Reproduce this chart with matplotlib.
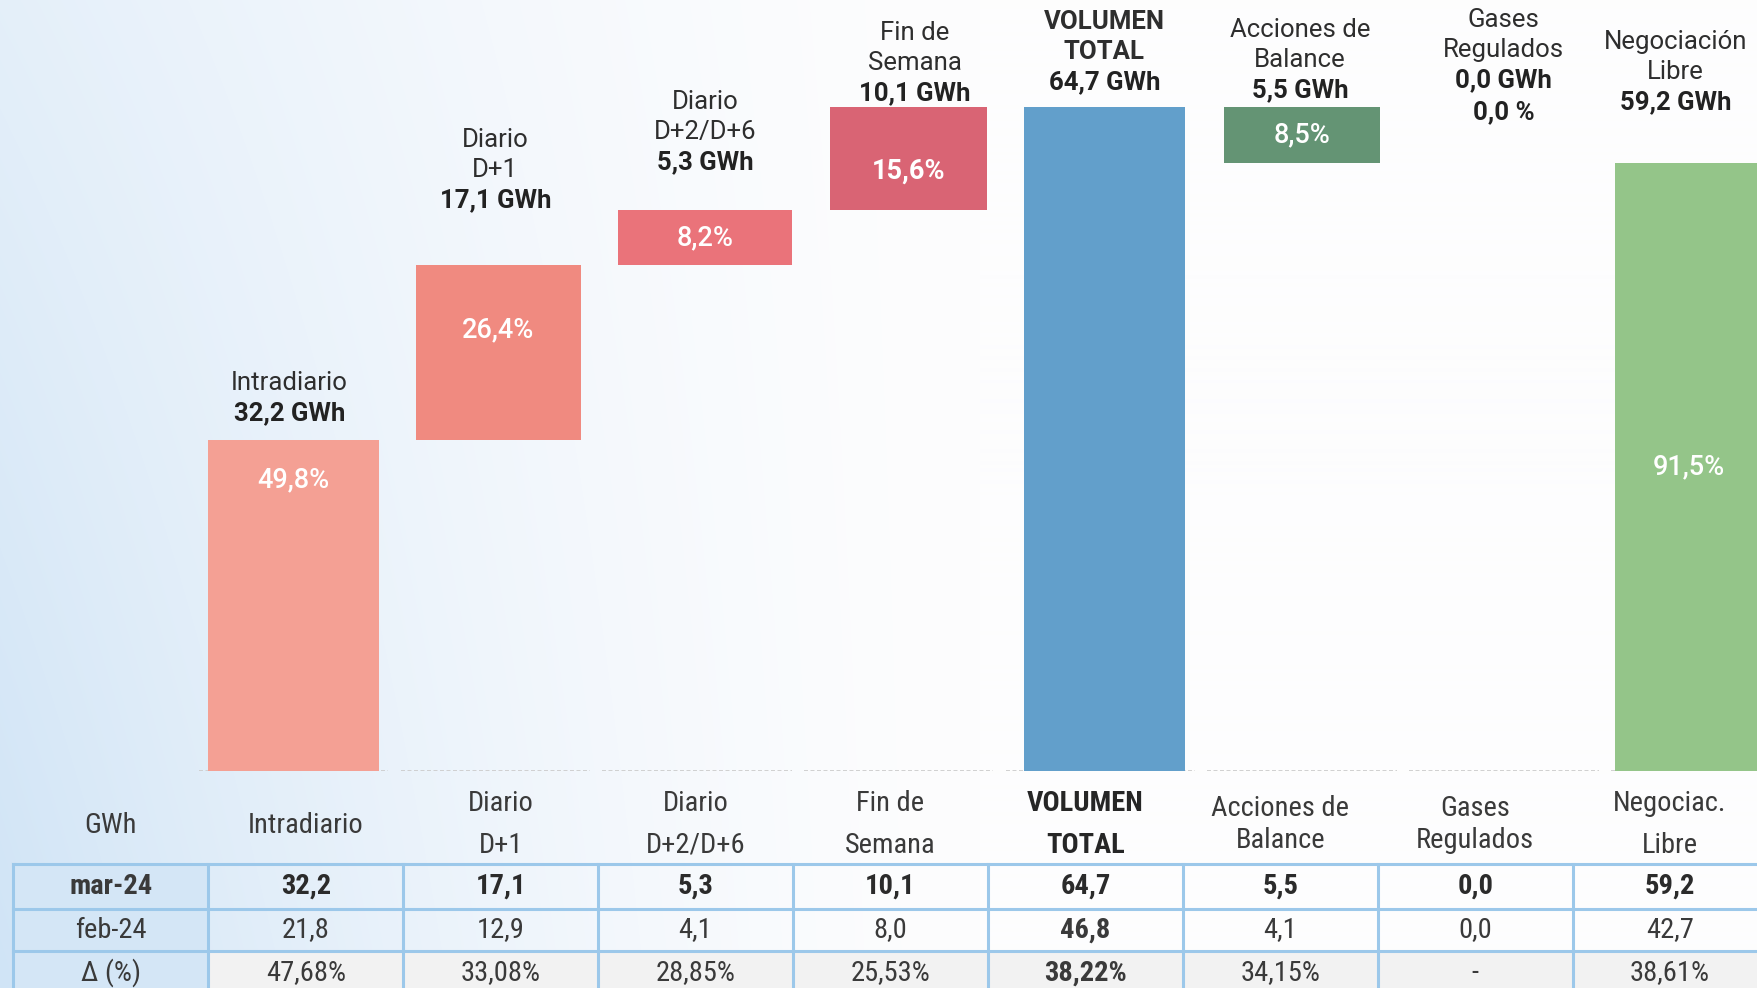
import numpy as np
import matplotlib
matplotlib.use("Agg")
import matplotlib.pyplot as plt
from matplotlib.transforms import blended_transform_factory

# ---------------- data ----------------
categories = ["Intradiario", "Diario D+1", "Diario D+2/D+6", "Fin de Semana",
              "VOLUMEN TOTAL", "Acciones de Balance", "Gases Regulados", "Negociación Libre"]
top_labels = [["Intradiario"], ["Diario", "D+1"], ["Diario", "D+2/D+6"], ["Fin de", "Semana"],
              ["VOLUMEN", "TOTAL"], ["Acciones de", "Balance"], ["Gases", "Regulados"],
              ["Negociación", "Libre"]]
mar24 = [32.2, 17.1, 5.3, 10.1, 64.7, 5.5, 0.0, 59.2]
feb24 = [21.8, 12.9, 4.1, 8.0, 46.8, 4.1, 0.0, 42.7]
delta_txt = ["47,68%", "33,08%", "28,85%", "25,53%", "38,22%", "34,15%", "-", "38,61%"]
share_pct = [49.8, 26.4, 8.2, 15.6, None, 8.5, 0.0, 91.5]
# bar kind: 'up' stacks upward, 'total' from zero, 'down' subtracts from running total
kinds = ["up", "up", "up", "up", "total", "down", "down", "total"]
table_headers = ["GWh", "Intradiario", "Diario\nD+1", "Diario\nD+2/D+6", "Fin de\nSemana",
                 "VOLUMEN\nTOTAL", "Acciones de\nBalance", "Gases\nRegulados", "Negociac.\nLibre"]
row_labels = ["mar-24", "feb-24", "Δ (%)"]

# ---------------- style / layout ----------------
colors = ["#F4A094", "#F08A80", "#EA737A", "#D96474", "#629FCB", "#649474", "#649474", "#94C589"]
widths = [0.85, 0.82, 0.86, 0.78, 0.80, 0.77, 0.77, 0.86]
bar_dx_px = [0, 3, 8, 10, 4, 0, 0, -4]
pct_dx_px = [0, 0, 0, 0, 0, 0, 0, -13]
pct_frac = [0.12, 0.37, 0.5, 0.62, None, 0.5, None, 0.5]   # position of % label from top of bar
value_line_px = [413, 200, 162, 93, 82, 90, 80, 102]      # y (px from top) of bold value line
label_dx_px = [-4, 0, 8, 16, 4, -2, 0, -30]
LINE = 30.0

W, H, DPI = 1757, 988, 100
BASE_PX = 771.0
PX_PER_GWH = 10.27
X0_PX, STEP_PX = 293.6, 201.7

lab_font = ["Roboto", "DejaVu Sans"]
tab_font = ["Liberation Sans Narrow", "Roboto Condensed", "Roboto", "DejaVu Sans"]
txt_col = "#2e2e2e"
TFS = 20.5

fig = plt.figure(figsize=(W / DPI, H / DPI), dpi=DPI)

# background gradient
bg = fig.add_axes([0, 0, 1, 1], zorder=-10)
xs = np.linspace(0, 1, W)
ys = np.linspace(0, 1, H)
wx = np.clip(1 - xs * W / 980.0, 0, 1) ** 1.5
wy = 0.55 + 0.45 * ys
wgt = wy[:, None] * wx[None, :]
blue = np.array([208, 228, 246]) / 255.0
white = np.array([253, 253, 254]) / 255.0
img = white[None, None, :] + wgt[..., None] * (blue - white)[None, None, :]
bg.imshow(img, extent=[0, W, H, 0], aspect="auto")
bg.set_xlim(0, W)
bg.set_ylim(H, 0)
bg.axis("off")

# chart axes
ax = fig.add_axes([0, (H - BASE_PX) / H, 1, BASE_PX / H])
ax.set_xlim(-X0_PX / STEP_PX, (W - X0_PX) / STEP_PX)
ax.set_ylim(0, BASE_PX / PX_PER_GWH)
ax.axis("off")
ax.patch.set_alpha(0)

bottoms, tops = [], []
running = 0.0
for v, k in zip(mar24, kinds):
    if k == "up":
        b, t = running, running + v
        running = t
    elif k == "total":
        b, t = 0.0, v
        running = v
    else:
        b, t = running - v, running
        running = b
    bottoms.append(b)
    tops.append(t)

xpos = np.arange(len(categories))
for i in xpos:
    xc = i + bar_dx_px[i] / STEP_PX
    ax.plot([i - 0.47, i + 0.47], [0, 0], color="#cdcdcd", lw=1.3,
            ls=(0, (2.2, 1.4)), zorder=1, solid_capstyle="butt")
    h = tops[i] - bottoms[i]
    if h > 0:
        ax.bar(xc, h, bottom=bottoms[i], width=widths[i], color=colors[i], zorder=2,
               linewidth=0)

trans = blended_transform_factory(ax.transData, fig.transFigure)


def fy(px):
    return 1 - px / H


def fmt(v):
    return f"{v:.1f}".replace(".", ",")


for i in xpos:
    x = i + label_dx_px[i] / STEP_PX
    y_val = value_line_px[i]
    lines = top_labels[i]
    bold_lines = (i == 4)
    for j, ln in enumerate(lines):
        y = y_val - LINE * (len(lines) - j)
        ax.text(x, fy(y), ln, transform=trans, ha="center", va="center",
                fontsize=18.5, family=lab_font, color=txt_col,
                fontweight="bold" if bold_lines else "normal")
    ax.text(x, fy(y_val), f"{fmt(mar24[i])} GWh", transform=trans, ha="center",
            va="center", fontsize=18.5, family=lab_font, color="#222222", fontweight="bold")
    if share_pct[i] is not None:
        if pct_frac[i] is None:
            ax.text(x, fy(y_val + 32), f"{fmt(share_pct[i])} %", transform=trans,
                    ha="center", va="center", fontsize=18.5, family=lab_font,
                    color="#222222", fontweight="bold")
        else:
            xc = i + (bar_dx_px[i] + pct_dx_px[i]) / STEP_PX
            yv = tops[i] - pct_frac[i] * (tops[i] - bottoms[i])
            ax.text(xc, yv, f"{fmt(share_pct[i])}%", ha="center", va="center",
                    fontsize=19.5, family=lab_font, color="white",
                    fontweight="bold" if i == 3 else "medium", zorder=3)

# ---------------- table ----------------
tax = fig.add_axes([0, 0, 1, 1], zorder=5)
tax.set_xlim(0, W)
tax.set_ylim(H, 0)
tax.axis("off")
tax.patch.set_alpha(0)

left = 13.4
colw = 194.9
col_edges = [left + colw * j for j in range(10)]
row_edges = [864.0, 908.7, 951.3, 994.0]
border = "#9CC8EA"

# cell fills
for r in range(3):
    tax.add_patch(plt.Rectangle((col_edges[0], row_edges[r]), colw,
                                row_edges[r + 1] - row_edges[r],
                                facecolor="#D4E6F6", edgecolor="none", zorder=1))
for j in range(1, 9):
    tax.add_patch(plt.Rectangle((col_edges[j], row_edges[2]), colw,
                                row_edges[3] - row_edges[2],
                                facecolor="#F2F2F2", edgecolor="none", zorder=1))
for ye in row_edges[:3]:
    tax.plot([left, W + 20], [ye, ye], color=border, lw=2.2, zorder=2)
for xe in col_edges:
    tax.plot([xe, xe], [row_edges[0], H + 10], color=border, lw=2.2, zorder=2)

tcol = "#3a3a3a"
# headers
for j, hdr in enumerate(table_headers):
    cx = col_edges[j] + colw / 2
    parts = hdr.split("\n")
    bold = (j == 5)
    if len(parts) == 1:
        tax.text(cx, 825, parts[0], ha="center", va="center", fontsize=TFS,
                 family=tab_font, color=tcol)
    else:
        gap = 32 if j in (6, 7) else 42
        mid = 824
        for k, p in enumerate(parts):
            tax.text(cx, mid + (k - 0.5) * gap, p, ha="center", va="center",
                     fontsize=TFS, family=tab_font, color="#262626" if bold else tcol,
                     fontweight="bold" if bold else "normal")

row_centers = [(row_edges[r] + row_edges[r + 1]) / 2 for r in range(3)]
for r, lab in enumerate(row_labels):
    tax.text(col_edges[0] + colw / 2, row_centers[r], lab, ha="center", va="center",
             fontsize=TFS, family=tab_font, color=tcol,
             fontweight="bold" if r == 0 else "normal")

for j in range(8):
    cx = col_edges[j + 1] + colw / 2
    tax.text(cx, row_centers[0], fmt(mar24[j]), ha="center", va="center", fontsize=TFS,
             family=tab_font, color="#2b2b2b", fontweight="bold")
    tax.text(cx, row_centers[1], fmt(feb24[j]), ha="center", va="center", fontsize=TFS,
             family=tab_font, color=tcol, fontweight="bold" if j == 4 else "normal")
    tax.text(cx, row_centers[2], delta_txt[j], ha="center", va="center", fontsize=TFS,
             family=tab_font, color=tcol, fontweight="bold" if j == 4 else "normal")

fig.savefig("out.png", dpi=DPI)
